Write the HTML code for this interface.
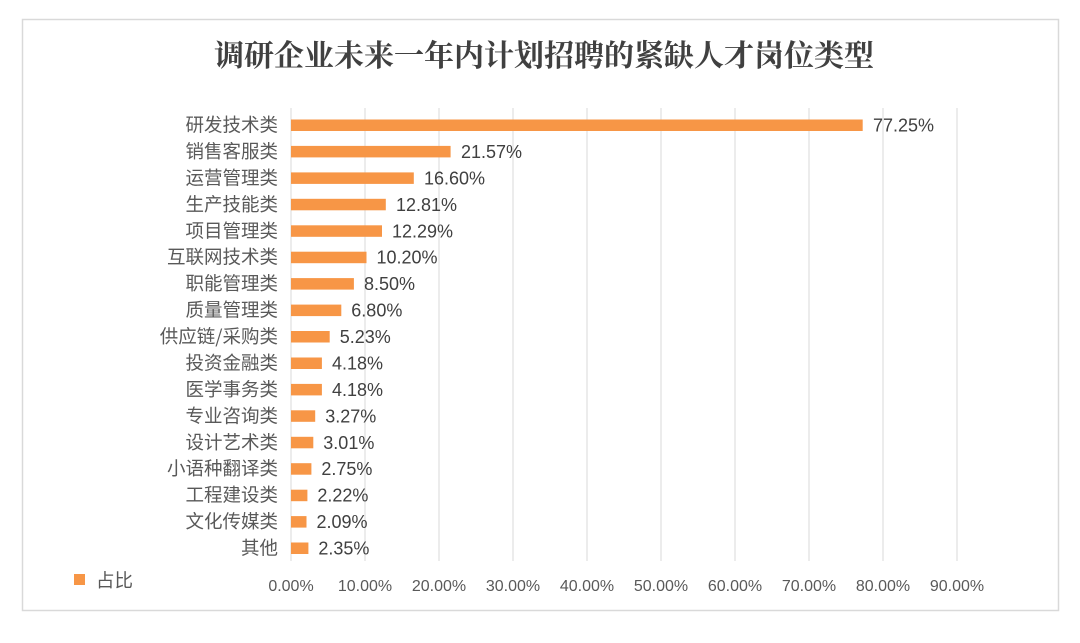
<!DOCTYPE html><html><head><meta charset="utf-8"><style>
body{margin:0;background:#fff;width:1080px;height:638px;overflow:hidden}
</style></head><body>
<svg width="1080" height="638" xmlns="http://www.w3.org/2000/svg" font-family="Liberation Sans, Noto Sans CJK SC, sans-serif">
<rect x="22.5" y="19.5" width="1036" height="591" fill="#fff" stroke="#d9d9d9" stroke-width="1.5"/>
<text x="544" y="66" text-anchor="middle" font-size="30" font-weight="bold" fill="#404040" font-family="Noto Serif CJK SC, serif">调研企业未来一年内计划招聘的紧缺人才岗位类型</text>
<g stroke="#d9d9d9" stroke-width="1">
<line x1="291" y1="108" x2="291" y2="561"/><line x1="365" y1="108" x2="365" y2="561"/><line x1="439" y1="108" x2="439" y2="561"/><line x1="513" y1="108" x2="513" y2="561"/><line x1="587" y1="108" x2="587" y2="561"/><line x1="661" y1="108" x2="661" y2="561"/><line x1="735" y1="108" x2="735" y2="561"/><line x1="809" y1="108" x2="809" y2="561"/><line x1="883" y1="108" x2="883" y2="561"/><line x1="957" y1="108" x2="957" y2="561"/>
</g>
<g font-size="16" fill="#595959" text-anchor="middle">
<text x="291" y="591">0.00%</text><text x="365" y="591">10.00%</text><text x="439" y="591">20.00%</text><text x="513" y="591">30.00%</text><text x="587" y="591">40.00%</text><text x="661" y="591">50.00%</text><text x="735" y="591">60.00%</text><text x="809" y="591">70.00%</text><text x="883" y="591">80.00%</text><text x="957" y="591">90.00%</text>
</g>
<rect x="74" y="574" width="11" height="11" fill="#f79646"/>
<text x="96" y="587" font-size="18.5" fill="#595959" font-family="Noto Sans CJK SC, sans-serif">占比</text>
<g fill="#f79646">
<rect x="291" y="119.5" width="571.7" height="11.5"/>
<rect x="291" y="145.9" width="159.6" height="11.5"/>
<rect x="291" y="172.4" width="122.8" height="11.5"/>
<rect x="291" y="198.8" width="94.8" height="11.5"/>
<rect x="291" y="225.3" width="91" height="11.5"/>
<rect x="291" y="251.7" width="75.5" height="11.5"/>
<rect x="291" y="278.1" width="62.9" height="11.5"/>
<rect x="291" y="304.6" width="50.3" height="11.5"/>
<rect x="291" y="331" width="38.7" height="11.5"/>
<rect x="291" y="357.5" width="30.9" height="11.5"/>
<rect x="291" y="383.9" width="30.9" height="11.5"/>
<rect x="291" y="410.3" width="24.2" height="11.5"/>
<rect x="291" y="436.8" width="22.3" height="11.5"/>
<rect x="291" y="463.2" width="20.4" height="11.5"/>
<rect x="291" y="489.7" width="16.4" height="11.5"/>
<rect x="291" y="516.1" width="15.5" height="11.5"/>
<rect x="291" y="542.5" width="17.4" height="11.5"/>
</g>
<g text-anchor="end" font-size="18.5" fill="#595959" font-family="Noto Sans CJK SC, sans-serif">
<text x="278" y="131.5">研发技术类</text>
<text x="278" y="157.9">销售客服类</text>
<text x="278" y="184.4">运营管理类</text>
<text x="278" y="210.8">生产技能类</text>
<text x="278" y="237.3">项目管理类</text>
<text x="278" y="263.7">互联网技术类</text>
<text x="278" y="290.1">职能管理类</text>
<text x="278" y="316.6">质量管理类</text>
<text x="278" y="343">供应链/采购类</text>
<text x="278" y="369.5">投资金融类</text>
<text x="278" y="395.9">医学事务类</text>
<text x="278" y="422.3">专业咨询类</text>
<text x="278" y="448.8">设计艺术类</text>
<text x="278" y="475.2">小语种翻译类</text>
<text x="278" y="501.7">工程建设类</text>
<text x="278" y="528.1">文化传媒类</text>
<text x="278" y="554.5">其他</text>
</g>
<g font-size="18" fill="#404040">
<text x="873" y="131.5">77.25%</text>
<text x="461" y="157.9">21.57%</text>
<text x="424" y="184.4">16.60%</text>
<text x="396" y="210.8">12.81%</text>
<text x="392" y="237.3">12.29%</text>
<text x="376.5" y="263.7">10.20%</text>
<text x="364" y="290.1">8.50%</text>
<text x="351.3" y="316.6">6.80%</text>
<text x="339.7" y="343">5.23%</text>
<text x="332" y="369.5">4.18%</text>
<text x="332" y="395.9">4.18%</text>
<text x="325.2" y="422.3">3.27%</text>
<text x="323.3" y="448.8">3.01%</text>
<text x="321.4" y="475.2">2.75%</text>
<text x="317.4" y="501.7">2.22%</text>
<text x="316.5" y="528.1">2.09%</text>
<text x="318.4" y="554.5">2.35%</text>
</g>
</svg></body></html>
